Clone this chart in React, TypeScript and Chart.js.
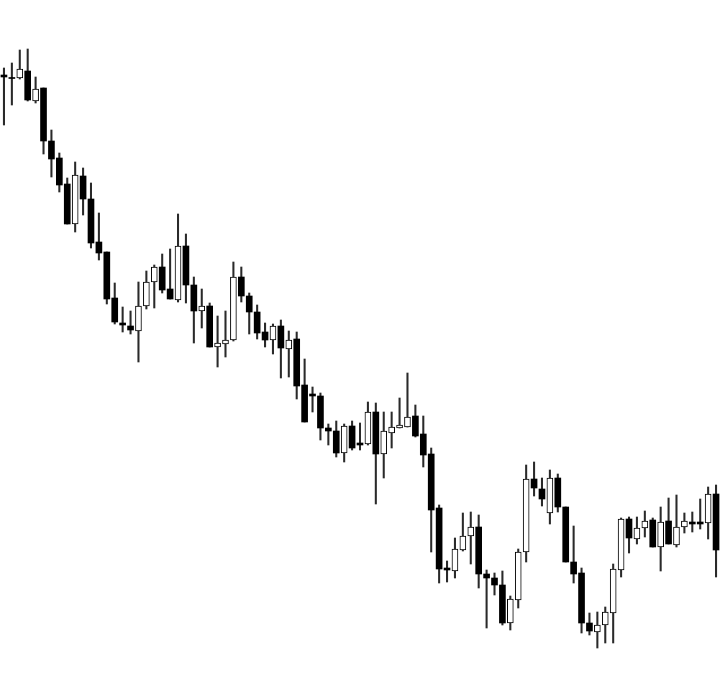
import React, { useEffect, useRef } from "react";
import { Chart, registerables } from "chart.js";

Chart.register(...registerables);

const opens = [
  625, 622.5, 622, 629, 599, 612, 559, 542, 516, 476, 524, 501, 458, 448, 402, 377, 374, 369, 394, 418,
  433, 411, 400, 454, 415, 389, 394, 353, 356, 360, 423, 404, 388, 368, 360, 374, 351, 361, 315, 306,
  304, 272, 269, 247, 274, 257, 256, 288, 246, 267, 272, 273, 284, 266, 246, 192, 132, 129, 150, 164,
  173, 126, 122, 115, 77, 100, 148, 221, 211, 187, 222, 193, 138, 127, 77, 68, 75, 87, 130, 181,
  161, 172, 180, 153, 179, 155, 173, 178, 178, 177, 206,
];
const highs = [
  632, 637, 650, 651, 623, 612, 570, 547, 522, 538, 532, 517, 487, 448, 417, 393, 389, 418, 429, 435,
  446, 451, 486, 466, 423, 411, 397, 384, 389, 438, 433, 407, 395, 377, 376, 380, 369, 368, 341, 313,
  307, 276, 279, 276, 279, 277, 298, 297, 288, 288, 302, 327, 295, 284, 252, 195, 139, 162, 187, 188,
  185, 130, 127, 129, 104, 151, 235, 238, 222, 230, 226, 193, 174, 132, 87, 88, 93, 136, 182, 183,
  183, 189, 182, 193, 202, 205, 187, 188, 201, 213, 215,
];
const lows = [
  575, 595, 621, 599, 597, 546, 523, 508, 476, 468, 485, 452, 440, 396, 376, 368, 366, 338, 391, 392,
  407, 401, 398, 397, 357, 372, 353, 333, 343, 359, 398, 366, 361, 353, 346, 322, 323, 301, 278, 288,
  260, 255, 243, 238, 250, 250, 255, 196, 222, 252, 272, 273, 263, 233, 148, 117, 118, 122, 149, 136,
  112, 72, 105, 75, 70, 92, 138, 204, 194, 176, 188, 138, 117, 67, 65, 52, 57, 57, 123, 147,
  156, 163, 153, 129, 156, 153, 167, 168, 171, 161, 123,
];
const closes = [
  623, 621.5, 631, 600, 611, 559, 541, 515, 476, 525, 501, 457, 447, 401, 378, 375, 370, 394, 418, 433,
  410, 401, 454, 415, 389, 394, 353, 357, 360, 423, 404, 388, 367, 360, 374, 352, 360, 314, 278, 304,
  272, 269, 247, 274, 252, 255, 288, 246, 269, 273, 275, 283, 264, 245, 190, 131, 130, 151, 164, 173,
  126, 122, 115, 77, 101, 148, 221, 212, 201, 222, 193, 138, 126, 77, 69, 75, 88, 131, 181, 162,
  172, 179, 153, 178, 156, 173, 179, 176, 176, 206, 150,
];
const sessions = opens.map((_, i) => `D${i + 1}`);

export default function App() {
  const ref = useRef<HTMLCanvasElement | null>(null);

  useEffect(() => {
    document.body.style.margin = "0";
    const canvas = ref.current;
    if (!canvas) return;
    const up = closes.map((c, i) => c >= opens[i]);
    const chart = new Chart(canvas, {
      type: "bar",
      data: {
        labels: sessions,
        datasets: [
          {
            label: "body",
            data: opens.map((o, i) => [Math.min(o, closes[i]), Math.max(o, closes[i])]) as any,
            backgroundColor: up.map((u) => (u ? "#ffffff" : "#000000")),
            borderColor: "#000000",
            borderWidth: up.map((u) => (u ? 1 : 0)) as any,
            borderSkipped: false,
            barThickness: 6,
            grouped: false,
            order: 1,
          } as any,
          {
            label: "wick",
            data: lows.map((l, i) => [l, highs[i]]) as any,
            backgroundColor: "#2a2a2a",
            borderWidth: 0,
            barThickness: 1.4,
            grouped: false,
            order: 2,
          } as any,
        ],
      },
      options: {
        responsive: false,
        animation: false,
        layout: { padding: 0 },
        plugins: { legend: { display: false }, tooltip: { enabled: false } },
        scales: {
          x: { display: false, offset: true, grid: { display: false } },
          y: { display: false, min: 8, max: 700, grid: { display: false } },
        },
      },
    });
    return () => chart.destroy();
  }, []);

  return (
    <div style={{ position: "absolute", left: 0, top: 0, width: 720, height: 692, background: "#fff" }}>
      <canvas ref={ref} width={720} height={692} style={{ display: "block" }} />
    </div>
  );
}
